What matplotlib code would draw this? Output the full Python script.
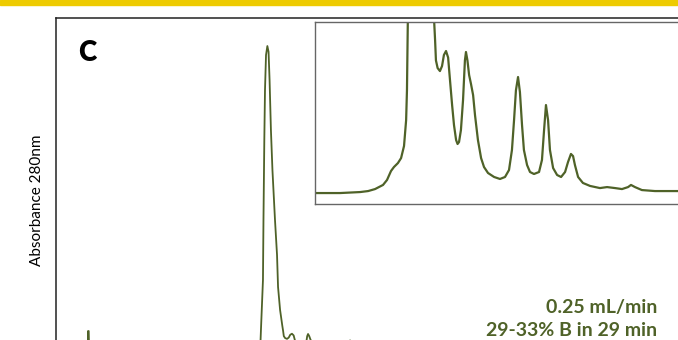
import matplotlib.pyplot as plt
from matplotlib.patches import Rectangle

# chromatogram trace: retention time (min) and absorbance at 280 nm
time = [0.0, 1.0, 1.86, 1.89, 1.93, 1.98, 2.06, 4.0, 6.0, 7.68, 8.87, 9.83,
        10.21, 10.54, 10.92, 11.11, 11.30, 11.44, 11.63, 11.78, 11.92, 12.02,
        12.06, 12.10, 12.21, 12.24, 12.29, 12.33, 12.39, 12.47, 12.54, 12.60,
        12.68, 12.77, 12.92, 13.04, 13.10, 13.22, 13.35, 13.40, 13.44, 13.52,
        13.63, 13.73, 13.82, 13.92, 14.02, 14.11, 14.21, 14.30, 14.40, 14.47,
        14.54, 14.63, 14.73, 14.82, 14.87, 14.94, 15.02, 15.11, 15.21, 15.30,
        15.44, 15.59, 15.73, 15.92, 16.21, 16.49, 16.73, 16.92, 17.06, 17.16,
        17.25, 17.35, 17.44, 17.54, 17.63, 17.78, 17.92, 18.11, 18.35, 18.49,
        18.59, 18.68, 18.78, 18.87, 19.02, 19.21, 19.40, 19.59, 19.73, 19.87,
        19.97, 20.06, 20.21, 20.44, 20.78, 21.25, 21.59, 21.97, 22.30, 22.59,
        22.73, 22.92, 23.25, 23.87, 24.97, 26.0, 30.0, 40.0]
absorbance = [0.033, 0.033, 0.033, 0.140, 0.140, 0.020, 0.033, 0.033, 0.033,
              0.0327, 0.0327, 0.0334, 0.0341, 0.0355, 0.0384, 0.0419, 0.0482,
              0.051, 0.0538, 0.0573, 0.0658, 0.084, 0.105, 0.153, 0.280, 0.445,
              0.665, 0.802, 0.898, 0.923, 0.907, 0.830, 0.692, 0.582, 0.445,
              0.349, 0.261, 0.198, 0.155, 0.140, 0.126, 0.1206, 0.1185, 0.122,
              0.1298, 0.1326, 0.128, 0.112, 0.0946, 0.0805, 0.070, 0.0672,
              0.0686, 0.077, 0.098, 0.126, 0.1319, 0.126, 0.1157, 0.1094,
              0.1016, 0.0876, 0.070, 0.0573, 0.051, 0.0468, 0.044, 0.0426,
              0.044, 0.0489, 0.063, 0.084, 0.105, 0.1143, 0.1037, 0.0805,
              0.063, 0.0524, 0.0475, 0.0461, 0.0475, 0.056, 0.077, 0.0946,
              0.084, 0.063, 0.0503, 0.0454, 0.044, 0.0475, 0.0545, 0.0602,
              0.0587, 0.0524, 0.044, 0.0398, 0.0377, 0.0362, 0.0369, 0.0362,
              0.0355, 0.0369, 0.0384, 0.0369, 0.0348, 0.0341, 0.0341, 0.0341,
              0.0341, 0.0341]

panel = 'C'
conditions = ['0.25 mL/min', '29-33% B in 29 min']
ylabel = 'Absorbance 280nm'

olive = '#4F6228'
plt.rcParams['font.family'] = ['Lato', 'DejaVu Sans']

W, H = 678, 340
fig = plt.figure(figsize=(W / 100, H / 100), dpi=100)

# yellow band along the top
fig.patches.append(Rectangle((0, 1 - 5 / H), 1, 5 / H, transform=fig.transFigure,
                             color='#EECB00', zorder=0))

# full chromatogram (runs past the bottom and right edges)
ax = fig.add_axes([56 / W, 1 - 382 / H, 1.0, 364 / H])
ax.plot(time, absorbance, color=olive, lw=1.3, solid_joinstyle='round')
ax.set_xlim(0, 40)
ax.set_ylim(0, 1)
ax.set_xticks([])
ax.set_yticks([])
for s in ['left', 'top']:
    ax.spines[s].set_linewidth(1.1)
    ax.spines[s].set_color('#222222')

# zoomed view of the peak cluster
ins = fig.add_axes([315 / W, 1 - 204 / H, 375 / W, 182 / H])
ins.plot(time, absorbance, color=olive, lw=1.6, solid_joinstyle='round')
ins.set_xlim(7.68, 25.54)
ins.set_ylim(0.025, 0.153)
ins.set_xticks([])
ins.set_yticks([])
for s in ins.spines.values():
    s.set_color('#666666')
    s.set_linewidth(1.0)

fig.text(78 / W, 1 - 53 / H, panel, fontsize=20, fontweight='heavy',
         ha='left', va='center')
fig.text(37 / W, 1 - 200 / H, ylabel, fontsize=11, rotation=90,
         ha='center', va='center')
fig.text(657 / W, 1 - 308 / H, conditions[0], fontsize=14, fontweight='bold',
         color=olive, ha='right', va='center')
fig.text(657 / W, 1 - 331 / H, conditions[1], fontsize=14, fontweight='bold',
         color=olive, ha='right', va='center')

fig.savefig('out.png', dpi=100)
